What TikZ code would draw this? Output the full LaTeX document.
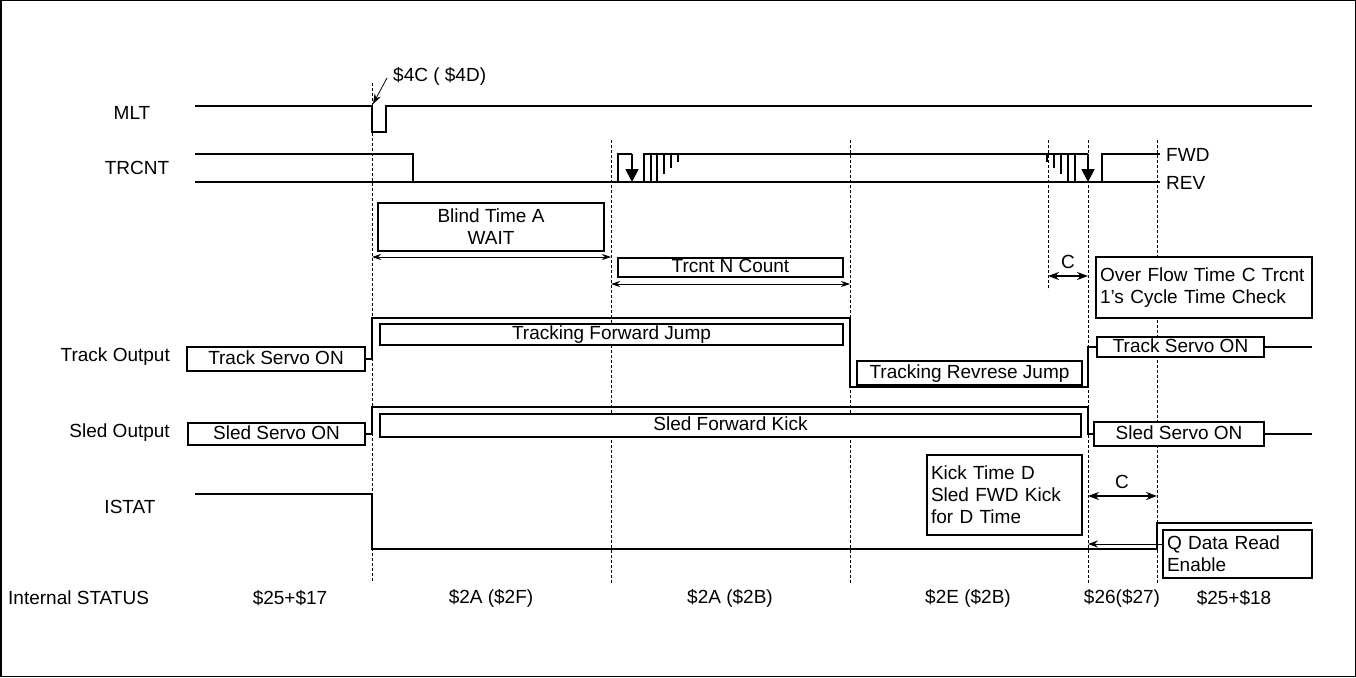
\documentclass[tikz,border=0pt]{standalone}
\usepackage{fontspec}
\setmainfont{Liberation Sans}
\usetikzlibrary{arrows.meta}
\hyphenpenalty=10000
\exhyphenpenalty=10000
\begin{document}
\begin{tikzpicture}[x=1pt,y=-1pt,
  every node/.style={font=\fontsize{19}{22}\selectfont},
  sig/.style={line width=1.8pt, line join=miter},
  guide/.style={line width=0.8pt, dash pattern=on 3pt off 2pt},
  box/.style={draw, line width=1.8pt, fill=white, inner sep=0pt, outer sep=0pt, anchor=north west},
  sbox/.style={box, text height=14pt, text depth=4pt},
  lbox/.style={box, align=left, inner xsep=4pt},
  dim/.style={line width=0.8pt, {Stealth[length=9pt,width=6pt]}-{Stealth[length=9pt,width=6pt]}},
  cdim/.style={line width=1.6pt, {Stealth[length=11pt,width=8pt]}-{Stealth[length=11pt,width=8pt]}},
  fall/.style={sig, -{Triangle[length=13pt,width=13pt]}},
  lab/.style={inner sep=0pt}]
\useasboundingbox (0,0) rectangle (1356,677);
\draw[line width=1.5pt] (0.75,0.75) rectangle (1355.25,676.25);

% guides
\draw[guide] (372,83) -- (372,583);
\draw[guide] (611,140) -- (611,583);
\draw[guide] (850,140) -- (850,583);
\draw[guide] (1048,140) -- (1048,290);
\draw[guide] (1088,140) -- (1088,583);
\draw[guide] (1157,140) -- (1157,583);

% signal names
\node[lab] (mlt) at (132,113) {MLT};
\node[lab] (trcnt) at (137,168) {TRCNT};
\node[lab, anchor=east] (trk) at (170,357) {Track Output};
\node[lab, anchor=east] (sled) at (170,433) {Sled Output};
\node[lab] (istat) at (130,507) {ISTAT};

% MLT
\draw[sig] (195,106) -- (372,106) -- (372,132) -- (386,132) -- (386,106) -- (1312,106);
\node[lab, anchor=west] (c4) at (393,76) {\$4C ( \$4D)};
\coordinate (c4s) at (387,78);
\coordinate (c4e) at (373,104);
\draw[line width=0.8pt, -{Stealth[length=10pt,width=7pt]}] (c4s) -- (c4e);

% TRCNT
\draw[sig] (195,182) -- (1160,182);
\draw[sig] (195,154) -- (413,154) -- (413,182);
\draw[sig] (618,182) -- (618,154) -- (632,154);
\draw[fall] (632,154) -- (632,182);
\draw[sig] (644,182) -- (644,154) -- (1088,154);
\draw[sig] (651,154) -- (651,182) (657,154) -- (657,182)
  (664,154) -- (664,174) (671,154) -- (671,168) (678,154) -- (678,162);
\draw[sig] (1047,154) -- (1047,162) (1054,154) -- (1054,168) (1061,154) -- (1061,174)
  (1068,154) -- (1068,182) (1075,154) -- (1075,182);
\draw[fall] (1088,154) -- (1088,182);
\draw[sig] (1102,182) -- (1102,154) -- (1160,154);
\node[lab, anchor=west] (fwd) at (1166,155) {FWD};
\node[lab, anchor=west] (rev) at (1166,183) {REV};

% Blind time / Trcnt count
\node[box, minimum width=226pt, minimum height=48pt, align=center] (blind) at (378,203) {Blind Time A\\WAIT};
\coordinate (ba) at (372,257);
\coordinate (bb) at (611,257);
\draw[dim] (ba) -- (bb);
\node[sbox, minimum width=225pt, minimum height=19pt, text height=13pt, text depth=3pt] (tn) at (618,258) {Trcnt N Count};
\coordinate (ta) at (611,284);
\coordinate (tb) at (850,284);
\draw[dim] (ta) -- (tb);

% C overflow
\coordinate (ca) at (1048,276);
\coordinate (cb) at (1088,276);
\draw[cdim] (ca) -- (cb);
\node[lab] (cl1) at (1068,262) {C};
\node[lbox, text width=208pt, minimum height=61pt] (over) at (1096,257) {Over Flow Time C Trcnt\\1's Cycle Time Check};

% Track output
\node[sbox, minimum width=178pt, minimum height=24pt] (trackL) at (187,347) {Track Servo ON};
\node[sbox, minimum width=463pt, minimum height=21pt, text height=13pt, text depth=4pt] (tfj) at (380,324) {Tracking Forward Jump};
\node[sbox, minimum width=225pt, minimum height=24pt] (trj) at (857,361) {Tracking Revrese Jump};
\node[sbox, minimum width=167pt, minimum height=20pt, text height=13pt, text depth=3pt] (trackR) at (1097,337) {Track Servo ON};
\draw[sig] (trackL.east) -- (372,359) -- (372,318) -- (850,318) -- (850,387) -- (1088,387) -- (1088,347) -- (trackR.west);
\draw[sig] (trackR.east) -- (1312,347);

% Sled output
\node[sbox, minimum width=177pt, minimum height=22pt] (sledL) at (188,423) {Sled Servo ON};
\node[sbox, minimum width=701pt, minimum height=23pt] (sfk) at (380,414) {Sled Forward Kick};
\node[sbox, minimum width=170pt, minimum height=24pt] (sledR) at (1094,422) {Sled Servo ON};
\draw[sig] (sledL.east) -- (372,434) -- (372,407) -- (1088,407) -- (1088,434) -- (sledR.west);
\draw[sig] (sledR.east) -- (1312,434);

% Kick time D
\node[lbox, text width=147pt, minimum height=80pt] (kick) at (927,455) {Kick Time D\\Sled FWD Kick\\for D Time};
\coordinate (da) at (1088,496);
\coordinate (db) at (1157,496);
\draw[cdim] (da) -- (db);
\node[lab] (cl2) at (1122,482) {C};

% ISTAT
\draw[sig] (195,494) -- (372,494) -- (372,549) -- (1157,549) -- (1157,523) -- (1312,523);
\node[lbox, text width=141pt, minimum height=48pt] (qd) at (1163,530) {Q Data Read\\Enable};
\coordinate (qa) at (1163,544);
\coordinate (qb) at (1088,544);
\draw[line width=0.8pt, -{Stealth[length=10pt,width=7pt]}] (qa) -- (qb);

% Internal status
\node[lab, anchor=west] (is) at (8,598) {Internal STATUS};
\node[lab] (s1) at (290,598) {\$25+\$17};
\node[lab] (s2) at (491,598) {\$2A (\$2F)};
\node[lab] (s3) at (730,598) {\$2A (\$2B)};
\node[lab] (s4) at (968,598) {\$2E (\$2B)};
\node[lab] (s5) at (1122,598) {\$26(\$27)};
\node[lab] (s6) at (1234,598) {\$25+\$18};
\end{tikzpicture}
\end{document}
